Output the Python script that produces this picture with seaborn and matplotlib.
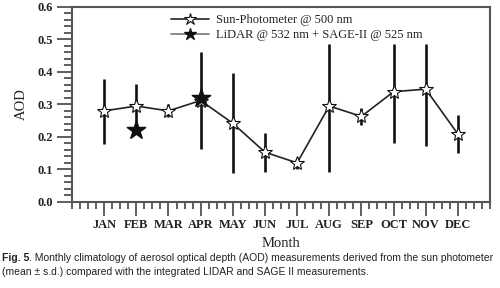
import matplotlib
matplotlib.use("Agg")
import matplotlib.pyplot as plt
import seaborn as sns
import pandas as pd
import numpy as np
from matplotlib.lines import Line2D
from matplotlib.ticker import MultipleLocator

months = ["JAN", "FEB", "MAR", "APR", "MAY", "JUN", "JUL", "AUG", "SEP", "OCT", "NOV", "DEC"]
sun_mean = [0.28, 0.295, 0.28, 0.312, 0.242, 0.153, 0.12, 0.295, 0.263, 0.339, 0.347, 0.209]
sun_low = [0.179, 0.227, 0.26, 0.163, 0.089, 0.092, 0.101, 0.091, 0.237, 0.181, 0.171, 0.15]
sun_high = [0.378, 0.363, 0.30, 0.46, 0.396, 0.213, 0.13, 0.485, 0.288, 0.485, 0.485, 0.266]
lidar_months = ["FEB", "APR"]
lidar_vals = [0.222, 0.321]

sns.set_theme(style="ticks")
plt.rcParams["font.family"] = ["Liberation Serif", "DejaVu Serif"]

idx = {m: i + 1 for i, m in enumerate(months)}
df = pd.DataFrame({"x": [idx[m] for m in months], "aod": sun_mean,
                   "lo": sun_low, "hi": sun_high})
dl = pd.DataFrame({"x": [idx[m] for m in lidar_months], "aod": lidar_vals})

fig = plt.figure(figsize=(5.0, 2.88), dpi=100)
ax = fig.add_axes([0.144, 0.299, 0.836, 0.677])

ax.vlines(df["x"], df["lo"], df["hi"], color="#111111", lw=1.9, zorder=2)
sns.lineplot(data=df, x="x", y="aod", ax=ax, color="#222222", lw=1.2,
             marker="*", markersize=10, markerfacecolor="white",
             markeredgecolor="#111111", markeredgewidth=0.8, zorder=3)
sns.scatterplot(data=dl, x="x", y="aod", ax=ax, marker="*", s=190,
                color="#111111", edgecolor="#111111", zorder=4)

ax.set_xlim(0, 13)
ax.set_ylim(0, 0.6)
ax.set_xticks(range(1, 13))
ax.set_xticklabels(months)
ax.xaxis.set_minor_locator(MultipleLocator(0.25))
ax.set_yticks(np.arange(0, 0.61, 0.1))
ax.set_yticklabels([f"{v:.1f}" for v in np.arange(0, 0.61, 0.1)])
ax.yaxis.set_minor_locator(MultipleLocator(0.02))

for s in ax.spines.values():
    s.set_visible(True)
    s.set_color("#555555")
    s.set_linewidth(1.5)

ax.tick_params(axis="x", which="major", direction="out", length=10, width=1.2,
               color="#444444", labelsize=9, pad=2)
ax.tick_params(axis="x", which="minor", direction="out", length=5, width=1.2,
               color="#444444")
ax.tick_params(axis="y", which="major", direction="out", length=10.5, width=1.2,
               color="#444444", labelsize=9, pad=3)
ax.tick_params(axis="y", which="minor", direction="out", length=6, width=1.2,
               color="#444444")
for lab in ax.get_xticklabels() + ax.get_yticklabels():
    lab.set_fontweight("semibold")
    lab.set_color("#222222")

ax.set_xlabel("Month", fontsize=10.5, color="#222222", labelpad=5)
ax.set_ylabel("AOD", fontsize=10.5, color="#222222", labelpad=7)

handles = [
    Line2D([], [], color="#222222", lw=1.2, marker="*", markersize=9,
           markerfacecolor="white", markeredgecolor="#111111", markeredgewidth=0.8),
    Line2D([], [], color="#777777", lw=1.2, marker="*", markersize=9,
           markerfacecolor="#111111", markeredgecolor="#111111"),
]
leg = ax.legend(handles, ["Sun-Photometer @ 500 nm", "LiDAR @ 532 nm + SAGE-II @ 525 nm"],
                loc="upper left", bbox_to_anchor=(0.22, 1.0), frameon=False,
                fontsize=9, handlelength=3.0, handletextpad=0.6, labelspacing=0.2,
                borderpad=0.1)
for t in leg.get_texts():
    t.set_color("#222222")

cap_font = ["Liberation Sans", "DejaVu Sans"]
y1 = 1 - 258 / 288
t1 = fig.text(0.004, y1, "Fig. 5", fontsize=7.5, fontweight="bold", family=cap_font,
              va="center", ha="left", color="#222222")
fig.canvas.draw()
bb = t1.get_window_extent().transformed(fig.transFigure.inverted())
fig.text(bb.x1, y1, ". Monthly climatology of aerosol optical depth (AOD) measurements derived from the sun photometer",
         fontsize=7.5, family=cap_font, va="center", ha="left", color="#222222")
fig.text(0.004, 1 - 272 / 288,
         "(mean \u00b1 s.d.) compared with the integrated LIDAR and SAGE II measurements.",
         fontsize=7.5, family=cap_font, va="center", ha="left", color="#222222")

fig.savefig("out.png", dpi=100)
